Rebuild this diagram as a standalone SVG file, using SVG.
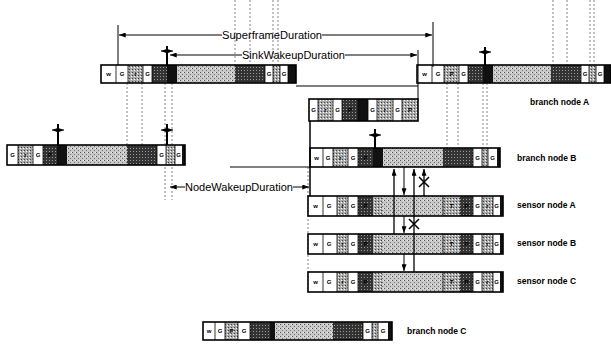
<svg xmlns="http://www.w3.org/2000/svg" width="611" height="345" viewBox="0 0 611 345">
<defs>
<pattern id="pl" width="4" height="4" patternUnits="userSpaceOnUse"><rect width="4" height="4" fill="#c8c8c8"/><rect x="0" y="0" width="1" height="1" fill="#555"/><rect x="2" y="2" width="1" height="1" fill="#777"/><rect x="3" y="0" width="1" height="1" fill="#eee"/></pattern>
<pattern id="pm" width="3" height="3" patternUnits="userSpaceOnUse"><rect width="3" height="3" fill="#aaa"/><rect x="0" y="0" width="1" height="1" fill="#444"/><rect x="2" y="1" width="1" height="1" fill="#fff"/></pattern>
<pattern id="pd" width="3" height="3" patternUnits="userSpaceOnUse"><rect width="3" height="3" fill="#333"/><rect x="1" y="1" width="1" height="1" fill="#999"/></pattern>
<marker id="ah" viewBox="0 0 8 6" refX="8" refY="3" markerWidth="7" markerHeight="5" markerUnits="userSpaceOnUse" orient="auto"><path d="M0,0 L8,3 L0,6 Z" fill="#000"/></marker>
<marker id="sh" viewBox="0 0 8 6" refX="8" refY="3" markerWidth="5" markerHeight="5" markerUnits="userSpaceOnUse" orient="auto-start-reverse"><path d="M0,0 L8,3 L0,6 Z" fill="#000"/></marker>
</defs>
<style>
.w{fill:#fff}
.lt{fill:url(#pl)}
.md{fill:url(#pm)}
.dk{fill:url(#pd)}
.bk{fill:#111}
.bar{fill:none;stroke:#000;stroke-width:1.6}
.sep{stroke:#000;stroke-width:0.8}
.c{font-family:"Liberation Sans",Arial,sans-serif;font-size:6px;font-weight:bold;text-anchor:middle;fill:#000}
.lab{font-family:"Liberation Sans",Arial,sans-serif;font-size:8.5px;font-weight:bold;fill:#000}
.dim{font-family:"Liberation Sans",Arial,sans-serif;font-size:10px;fill:#000}
.ln{stroke:#000;stroke-width:1;fill:none}
.thk{stroke:#000;stroke-width:2;fill:none}
.dash{stroke:#666;stroke-width:0.8;stroke-dasharray:2 2;fill:none}
</style>
<rect width="611" height="345" fill="#fff"/>

<g id="guides">
<path class="dash" d="M235,0V65M250,0V65M273,0V65M278,0V65"/>
<path class="dash" d="M553,0V65M567,0V65M590,0V65M594,0V65"/>
<path class="dash" d="M127,83V145M142,83V145M165,83V200M172,83V200"/>
<path class="dash" d="M447,83V148M458,83V148M483,83V148M487,83V148"/>
<path class="dash" d="M308,167V292"/>
</g>

<g id="branchA">
<g id="branchA-1">
<rect class="w" x="101" y="65" width="15" height="18"/><rect class="w" x="116" y="65" width="12" height="18"/><rect class="md" x="128" y="65" width="15" height="18"/><rect class="w" x="143" y="65" width="9" height="18"/><rect class="dk" x="152" y="65" width="15" height="18"/><rect class="bk" x="167" y="65" width="10" height="18"/><rect class="lt" x="177" y="65" width="58" height="18"/><rect class="dk" x="235" y="65" width="30" height="18"/><rect class="w" x="265" y="65" width="8" height="18"/><rect class="md" x="273" y="65" width="7" height="18"/><rect class="w" x="280" y="65" width="8" height="18"/><rect class="bk" x="288" y="65" width="8" height="18"/>
<path class="sep" d="M116,65V83M128,65V83M143,65V83M152,65V83M265,65V83M273,65V83M280,65V83M288,65V83"/>
<rect class="bar" x="101" y="65" width="195" height="18"/>
<text class="c" x="108.5" y="76">w</text><text class="c" x="122" y="76">G</text><text class="c" x="135.5" y="76">r</text><text class="c" x="147.5" y="76">G</text><text class="c" x="269" y="76">G</text><text class="c" x="284" y="76">G</text>
</g>
<g id="branchA-2">
<rect class="w" x="417" y="65" width="15" height="18"/><rect class="w" x="432" y="65" width="12" height="18"/><rect class="md" x="444" y="65" width="15" height="18"/><rect class="w" x="459" y="65" width="9" height="18"/><rect class="dk" x="468" y="65" width="15" height="18"/><rect class="bk" x="483" y="65" width="10" height="18"/><rect class="lt" x="493" y="65" width="58" height="18"/><rect class="dk" x="551" y="65" width="30" height="18"/><rect class="w" x="581" y="65" width="8" height="18"/><rect class="md" x="589" y="65" width="7" height="18"/><rect class="w" x="596" y="65" width="8" height="18"/><rect class="bk" x="604" y="65" width="7" height="18"/>
<path class="sep" d="M432,65V83M444,65V83M459,65V83M468,65V83M581,65V83M589,65V83M596,65V83M604,65V83"/>
<rect class="bar" x="417" y="65" width="194" height="18"/>
<text class="c" x="424.5" y="76">w</text><text class="c" x="438" y="76">G</text><text class="c" x="451.5" y="76">P</text><text class="c" x="463.5" y="76">G</text><text class="c" x="585" y="76">G</text><text class="c" x="600" y="76">G</text>
</g>
<text class="lab" x="530" y="105">branch node A</text>
</g>

<g id="prevFrame">
<rect class="w" x="309" y="99" width="9" height="22"/><rect class="md" x="318" y="99" width="15" height="22"/><rect class="w" x="333" y="99" width="9" height="22"/><rect class="dk" x="342" y="99" width="16" height="22"/><rect class="bk" x="358" y="99" width="10" height="22"/><rect class="w" x="368" y="99" width="9" height="22"/><rect class="md" x="377" y="99" width="16" height="22"/><rect class="w" x="393" y="99" width="9" height="22"/><rect class="md" x="402" y="99" width="16" height="22"/>
<path class="sep" d="M318,99V121M333,99V121M342,99V121M358,99V121M368,99V121M377,99V121M393,99V121M402,99V121"/>
<rect class="bar" x="309" y="99" width="109" height="22"/>
<text class="c" x="313.5" y="112">G</text><text class="c" x="325.5" y="112">r</text><text class="c" x="337.5" y="112">G</text><text class="c" x="350" y="112">P</text><text class="c" x="372.5" y="112">G</text><text class="c" x="385" y="112">r</text><text class="c" x="397.5" y="112">G</text><text class="c" x="410" y="112">P</text>
</g>

<g id="leftNode">
<rect class="w" x="7" y="145" width="11" height="20"/><rect class="md" x="18" y="145" width="15" height="20"/><rect class="w" x="33" y="145" width="10" height="20"/><rect class="dk" x="43" y="145" width="14" height="20"/><rect class="bk" x="57" y="145" width="10" height="20"/><rect class="lt" x="67" y="145" width="60" height="20"/><rect class="dk" x="127" y="145" width="30" height="20"/><rect class="w" x="157" y="145" width="9" height="20"/><rect class="md" x="166" y="145" width="9" height="20"/><rect class="w" x="175" y="145" width="7" height="20"/><rect class="bk" x="182" y="145" width="3" height="20"/>
<path class="sep" d="M18,145V165M33,145V165M43,145V165M157,145V165M166,145V165M175,145V165"/>
<rect class="bar" x="7" y="145" width="178" height="20"/>
<text class="c" x="12.5" y="157">G</text><text class="c" x="25.5" y="157">r</text><text class="c" x="38" y="157">G</text><text class="c" x="50" y="157">P</text><text class="c" x="161.5" y="157">G</text><text class="c" x="178.5" y="157">G</text>
</g>

<g id="branchB">
<rect class="w" x="310" y="148" width="13" height="19"/><rect class="w" x="323" y="148" width="10" height="19"/><rect class="md" x="333" y="148" width="15" height="19"/><rect class="w" x="348" y="148" width="10" height="19"/><rect class="dk" x="358" y="148" width="15" height="19"/><rect class="bk" x="373" y="148" width="10" height="19"/><rect class="lt" x="383" y="148" width="60" height="19"/><rect class="dk" x="443" y="148" width="30" height="19"/><rect class="w" x="473" y="148" width="9" height="19"/><rect class="md" x="482" y="148" width="6" height="19"/><rect class="w" x="488" y="148" width="9" height="19"/><rect class="bk" x="497" y="148" width="3" height="19"/>
<path class="sep" d="M323,148V167M333,148V167M348,148V167M358,148V167M473,148V167M482,148V167M488,148V167"/>
<rect class="bar" x="310" y="148" width="190" height="19"/>
<text class="c" x="316.5" y="159.5">w</text><text class="c" x="328" y="159.5">G</text><text class="c" x="340.5" y="159.5">r</text><text class="c" x="353" y="159.5">G</text><text class="c" x="365.5" y="159.5">P</text><text class="c" x="477.5" y="159.5">G</text><text class="c" x="492.5" y="159.5">G</text>
<text class="lab" x="517" y="161">branch node B</text>
</g>

<g id="sensorA">
<rect class="w" x="308" y="196" width="15" height="20"/><rect class="w" x="323" y="196" width="14" height="20"/><rect class="md" x="337" y="196" width="11" height="20"/><rect class="w" x="348" y="196" width="10" height="20"/><rect class="dk" x="358" y="196" width="15" height="20"/><rect class="md" x="373" y="196" width="9" height="20"/><rect class="lt" x="382" y="196" width="61" height="20"/><rect class="md" x="443" y="196" width="17" height="20"/><rect class="dk" x="460" y="196" width="13" height="20"/><rect class="w" x="473" y="196" width="9" height="20"/><rect class="md" x="482" y="196" width="11" height="20"/><rect class="w" x="493" y="196" width="7" height="20"/><rect class="bk" x="500" y="196" width="3" height="20"/>
<path class="sep" d="M323,196V216M337,196V216M348,196V216M358,196V216M443,196V216M473,196V216M482,196V216M493,196V216"/>
<rect class="bar" x="308" y="196" width="195" height="20"/>
<text class="c" x="315.5" y="208">w</text><text class="c" x="329" y="208">G</text><text class="c" x="342.5" y="208">r</text><text class="c" x="353" y="208">G</text><text class="c" x="365.5" y="208">P</text><text class="c" x="451.5" y="208">T</text><text class="c" x="466.5" y="208">P</text><text class="c" x="477.5" y="208">G</text><text class="c" x="487.5" y="208">r</text><text class="c" x="496.5" y="208">G</text>
<text class="lab" x="517" y="208">sensor node A</text>
</g>

<g id="sensorB">
<rect class="w" x="308" y="234" width="15" height="20"/><rect class="w" x="323" y="234" width="14" height="20"/><rect class="md" x="337" y="234" width="11" height="20"/><rect class="w" x="348" y="234" width="10" height="20"/><rect class="dk" x="358" y="234" width="15" height="20"/><rect class="md" x="373" y="234" width="9" height="20"/><rect class="lt" x="382" y="234" width="61" height="20"/><rect class="md" x="443" y="234" width="17" height="20"/><rect class="dk" x="460" y="234" width="13" height="20"/><rect class="w" x="473" y="234" width="9" height="20"/><rect class="md" x="482" y="234" width="11" height="20"/><rect class="w" x="493" y="234" width="7" height="20"/><rect class="bk" x="500" y="234" width="3" height="20"/>
<path class="sep" d="M323,234V254M337,234V254M348,234V254M358,234V254M443,234V254M473,234V254M482,234V254M493,234V254"/>
<rect class="bar" x="308" y="234" width="195" height="20"/>
<text class="c" x="315.5" y="246">w</text><text class="c" x="329" y="246">G</text><text class="c" x="342.5" y="246">r</text><text class="c" x="353" y="246">G</text><text class="c" x="365.5" y="246">P</text><text class="c" x="451.5" y="246">T</text><text class="c" x="466.5" y="246">P</text><text class="c" x="477.5" y="246">G</text><text class="c" x="487.5" y="246">r</text><text class="c" x="496.5" y="246">G</text>
<text class="lab" x="517" y="246">sensor node B</text>
</g>

<g id="sensorC">
<rect class="w" x="308" y="272" width="15" height="20"/><rect class="w" x="323" y="272" width="14" height="20"/><rect class="md" x="337" y="272" width="11" height="20"/><rect class="w" x="348" y="272" width="10" height="20"/><rect class="dk" x="358" y="272" width="15" height="20"/><rect class="md" x="373" y="272" width="9" height="20"/><rect class="lt" x="382" y="272" width="61" height="20"/><rect class="md" x="443" y="272" width="17" height="20"/><rect class="dk" x="460" y="272" width="13" height="20"/><rect class="w" x="473" y="272" width="9" height="20"/><rect class="md" x="482" y="272" width="11" height="20"/><rect class="w" x="493" y="272" width="7" height="20"/><rect class="bk" x="500" y="272" width="3" height="20"/>
<path class="sep" d="M323,272V292M337,272V292M348,272V292M358,272V292M443,272V292M473,272V292M482,272V292M493,272V292"/>
<rect class="bar" x="308" y="272" width="195" height="20"/>
<text class="c" x="315.5" y="284">w</text><text class="c" x="329" y="284">G</text><text class="c" x="342.5" y="284">r</text><text class="c" x="353" y="284">G</text><text class="c" x="365.5" y="284">P</text><text class="c" x="451.5" y="284">T</text><text class="c" x="466.5" y="284">P</text><text class="c" x="477.5" y="284">G</text><text class="c" x="487.5" y="284">r</text><text class="c" x="496.5" y="284">G</text>
<text class="lab" x="517" y="284">sensor node C</text>
</g>

<g id="branchC">
<rect class="w" x="203" y="322" width="12" height="18"/><rect class="w" x="215" y="322" width="10" height="18"/><rect class="md" x="225" y="322" width="13" height="18"/><rect class="w" x="238" y="322" width="12" height="18"/><rect class="dk" x="250" y="322" width="20" height="18"/><rect class="bk" x="270" y="322" width="5" height="18"/><rect class="lt" x="275" y="322" width="58" height="18"/><rect class="dk" x="333" y="322" width="30" height="18"/><rect class="w" x="363" y="322" width="9" height="18"/><rect class="md" x="372" y="322" width="6" height="18"/><rect class="w" x="378" y="322" width="10" height="18"/><rect class="bk" x="388" y="322" width="4" height="18"/>
<path class="sep" d="M215,322V340M225,322V340M238,322V340M250,322V340M363,322V340M372,322V340M378,322V340"/>
<rect class="bar" x="203" y="322" width="189" height="18"/>
<text class="c" x="209" y="333">w</text><text class="c" x="220" y="333">G</text><text class="c" x="231.5" y="333">P</text><text class="c" x="244" y="333">G</text><text class="c" x="367.5" y="333">G</text><text class="c" x="383" y="333">G</text>
<text class="lab" x="407" y="334">branch node C</text>
</g>

<g id="connectors">
<path class="ln" d="M118,25V65M433,22V67M418,50V99"/>
<path class="ln" d="M222,35H119" marker-end="url(#ah)"/>
<path class="ln" d="M322,35H432" marker-end="url(#ah)"/>
<text class="dim" x="222" y="38.5" textLength="100" lengthAdjust="spacingAndGlyphs">SuperframeDuration</text>
<path class="ln" d="M242,55H170" marker-end="url(#ah)"/>
<path class="ln" d="M345,55H417" marker-end="url(#ah)"/>
<text class="dim" x="242" y="58.5" textLength="103" lengthAdjust="spacingAndGlyphs">SinkWakeupDuration</text>
<path class="ln" d="M296,86H418"/>
<path class="thk" d="M167,46V65M485,47V65M58,124V145M167,124V145M375,129V148"/>
<path class="ln" d="M161,51H173" marker-start="url(#sh)" marker-end="url(#sh)"/>
<path class="ln" d="M479,52H491" marker-start="url(#sh)" marker-end="url(#sh)"/>
<path class="ln" d="M52,130H64" marker-start="url(#sh)" marker-end="url(#sh)"/>
<path class="ln" d="M161,130H173" marker-start="url(#sh)" marker-end="url(#sh)"/>
<path class="ln" d="M369,135H381" marker-start="url(#sh)" marker-end="url(#sh)"/>
<path class="thk" d="M310,121V196" style="stroke-width:1.5"/>
<path class="ln" d="M230,167H310"/>
<path class="ln" d="M185,187H170" marker-end="url(#ah)"/>
<path class="ln" d="M293,187H309" marker-end="url(#ah)"/>
<text class="dim" x="185" y="190.5" textLength="108" lengthAdjust="spacingAndGlyphs">NodeWakeupDuration</text>
<path class="ln" d="M394,234V169" style="stroke-width:1.3" marker-end="url(#ah)"/>
<path class="ln" d="M414,272V169" style="stroke-width:1.3" marker-end="url(#ah)"/>
<path class="ln" d="M424,196V169" style="stroke-width:1.3" marker-end="url(#ah)"/>
<path class="ln" d="M404,167V195" marker-end="url(#ah)"/>
<path class="ln" d="M404,216V233" marker-end="url(#ah)"/>
<path class="ln" d="M404,254V271" marker-end="url(#ah)"/>
<path class="ln" d="M419,177L429,187M429,177L419,187" style="stroke-width:1.5"/>
<path class="ln" d="M409,219L419,229M419,219L409,229" style="stroke-width:1.5"/>
</g>
</svg>
